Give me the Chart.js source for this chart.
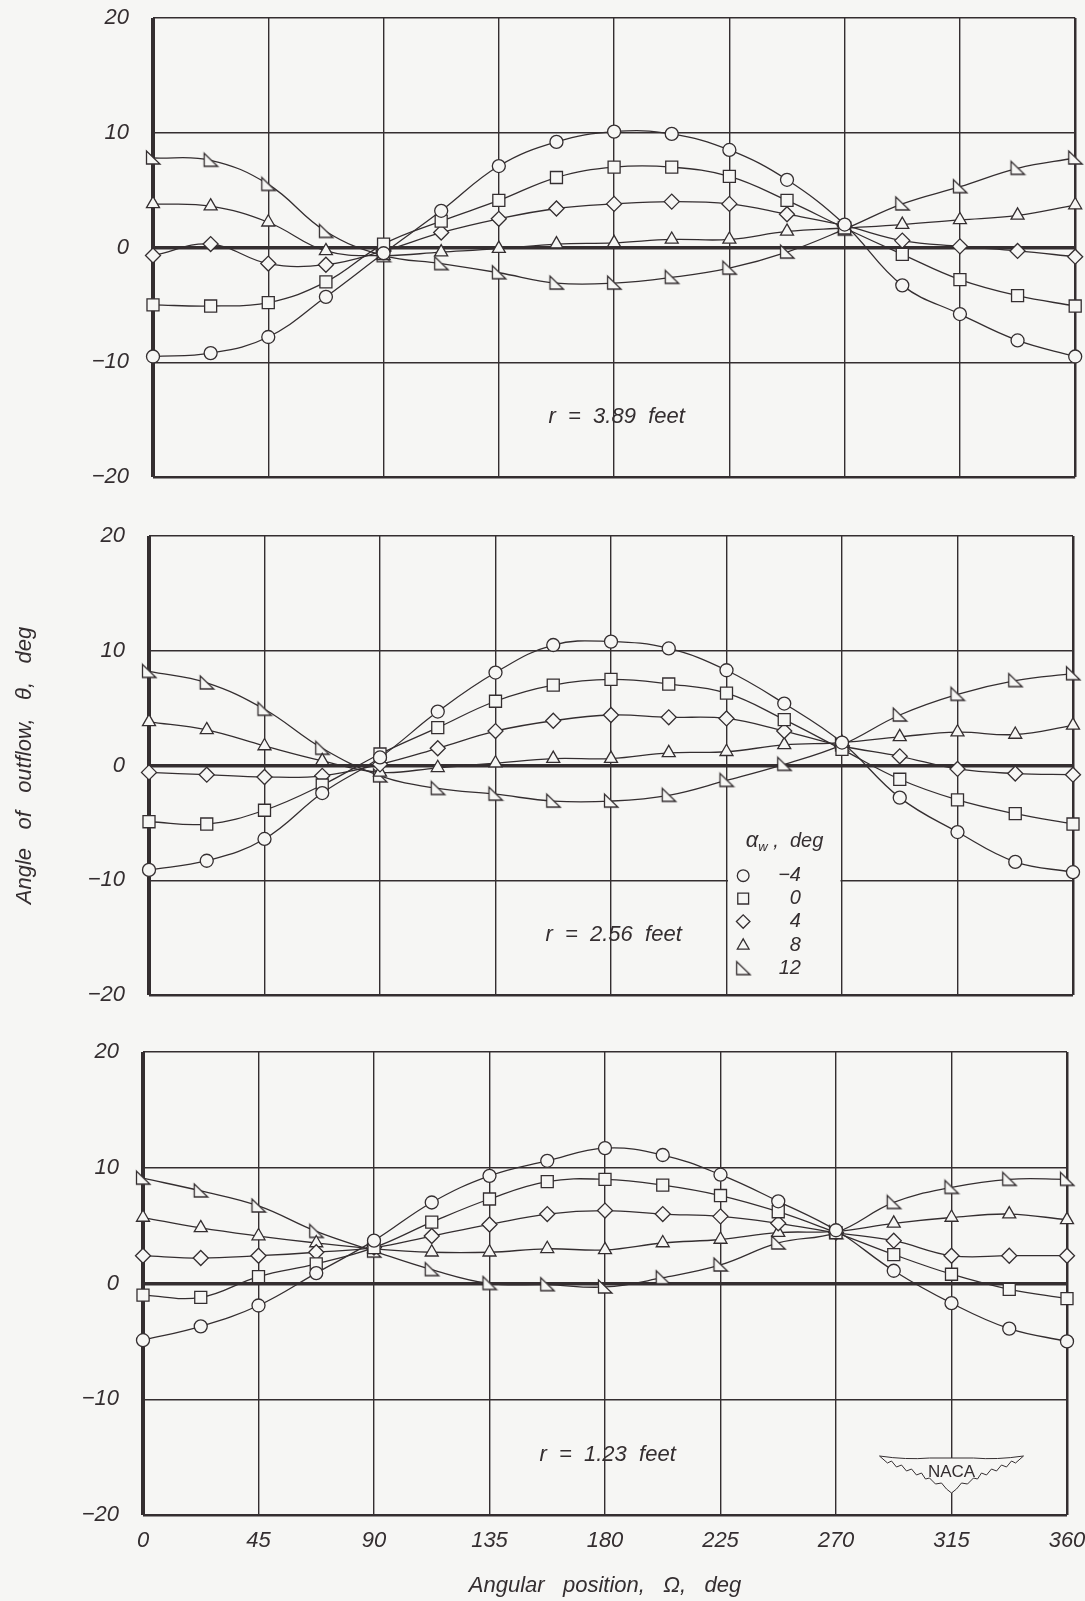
<!DOCTYPE html>
<html>
<head>
<meta charset="utf-8">
<script src="https://cdn.jsdelivr.net/npm/chart.js@4.4.1/dist/chart.umd.min.js"></script>
<style>
  body { margin: 0; background: #f6f6f4; }
  #wrap { position: relative; width: 1085px; height: 1601px; }
  canvas { position: absolute; left: 0; }
</style>
</head>
<body>
<div id="wrap">
  <canvas id="panelTop" width="1085" height="490" style="top:0px"></canvas>
  <canvas id="panelMid" width="1085" height="490" style="top:516px"></canvas>
  <canvas id="panelBot" width="1085" height="571" style="top:1030px"></canvas>
</div>
<script>
const BG = "#f6f6f4";
const INK = "#342e30";
const FONT = "'Liberation Sans', 'DejaVu Sans', sans-serif";

// angular position, deg
const ANGLES = [0, 22.5, 45, 67.5, 90, 112.5, 135, 157.5, 180, 202.5, 225, 247.5, 270, 292.5, 315, 337.5, 360];
const ALPHA_LABELS = ["-4", "0", "4", "8", "12"];
const X_TICKS = [0, 45, 90, 135, 180, 225, 270, 315, 360];
const Y_TICKS = [-20, -10, 0, 10, 20];

// r = 3.89 feet
const r389_am4 = [-9.5, -9.2, -7.8, -4.3, -0.5, 3.2, 7.1, 9.2, 10.1, 9.9, 8.5, 5.9, 2.0, -3.3, -5.8, -8.1, -9.5];
const r389_a0  = [-5.0, -5.1, -4.8, -3.0, 0.3, 2.3, 4.1, 6.1, 7.0, 7.0, 6.2, 4.1, 1.7, -0.6, -2.8, -4.2, -5.1];
const r389_a4  = [-0.7, 0.3, -1.4, -1.5, -0.3, 1.3, 2.5, 3.4, 3.8, 4.0, 3.8, 2.9, 1.9, 0.6, 0.1, -0.3, -0.8];
const r389_a8  = [3.8, 3.6, 2.2, -0.3, -0.7, -0.4, -0.1, 0.3, 0.4, 0.7, 0.7, 1.4, 1.7, 2.0, 2.4, 2.8, 3.7];
const r389_a12 = [7.8, 7.6, 5.5, 1.4, -0.7, -1.4, -2.2, -3.1, -3.1, -2.6, -1.8, -0.4, 1.6, 3.8, 5.3, 6.9, 7.8];

// r = 2.56 feet
const r256_am4 = [-9.1, -8.3, -6.4, -2.4, 0.7, 4.7, 8.1, 10.5, 10.8, 10.2, 8.3, 5.4, 2.0, -2.8, -5.8, -8.4, -9.3];
const r256_a0  = [-4.9, -5.1, -3.9, -1.7, 1.0, 3.3, 5.6, 7.0, 7.5, 7.1, 6.3, 4.0, 1.4, -1.2, -3.0, -4.2, -5.1];
const r256_a4  = [-0.6, -0.8, -1.0, -0.9, 0.1, 1.5, 3.0, 3.9, 4.4, 4.2, 4.1, 3.0, 1.7, 0.8, -0.3, -0.7, -0.8];
const r256_a8  = [3.8, 3.1, 1.7, 0.4, -0.6, -0.2, 0.2, 0.6, 0.6, 1.1, 1.2, 1.8, 2.0, 2.5, 2.9, 2.7, 3.5];
const r256_a12 = [8.2, 7.2, 4.9, 1.5, -0.9, -2.0, -2.5, -3.1, -3.1, -2.6, -1.3, 0.1, 1.8, 4.4, 6.2, 7.4, 8.0];

// r = 1.23 feet
const r123_am4 = [-4.9, -3.7, -1.9, 0.9, 3.7, 7.0, 9.3, 10.6, 11.7, 11.1, 9.4, 7.1, 4.6, 1.1, -1.7, -3.9, -5.0];
const r123_a0  = [-1.0, -1.2, 0.6, 1.7, 3.1, 5.3, 7.3, 8.8, 9.0, 8.5, 7.6, 6.2, 4.4, 2.5, 0.8, -0.5, -1.3];
const r123_a4  = [2.4, 2.2, 2.4, 2.7, 3.1, 4.1, 5.1, 6.0, 6.3, 6.0, 5.8, 5.2, 4.4, 3.7, 2.4, 2.4, 2.4];
const r123_a8  = [5.7, 4.8, 4.1, 3.5, 3.0, 2.7, 2.7, 3.0, 2.9, 3.5, 3.8, 4.4, 4.5, 5.2, 5.7, 6.0, 5.5];
const r123_a12 = [9.1, 8.0, 6.7, 4.5, 2.8, 1.2, 0.0, -0.1, -0.3, 0.5, 1.6, 3.5, 4.4, 7.0, 8.3, 9.0, 9.0];

// right triangle marker for alpha = 12
function makeRightTriangle() {
  const c = document.createElement('canvas');
  c.width = 18; c.height = 18;
  const g = c.getContext('2d');
  g.beginPath();
  g.moveTo(2.5, 2);
  g.lineTo(2.5, 15);
  g.lineTo(16, 15);
  g.closePath();
  g.fillStyle = BG;
  g.fill();
  g.strokeStyle = INK;
  g.lineWidth = 1.3;
  g.stroke();
  return c;
}

const POINT_STYLES = ['circle', 'rect', 'rectRot', 'triangle', makeRightTriangle()];
const POINT_RADII = [6.5, 8.5, 7.5, 7.5, 7];

function drawMarker(ctx, i, x, y) {
  const style = POINT_STYLES[i];
  ctx.save();
  if (typeof style !== 'string') {
    ctx.drawImage(style, x - style.width / 2, y - style.height / 2);
  } else {
    ctx.fillStyle = BG;
    ctx.strokeStyle = INK;
    ctx.lineWidth = 1.3;
    Chart.helpers.drawPoint(ctx, { pointStyle: style, radius: POINT_RADII[i] * 0.9, borderWidth: 1.3, rotation: 0 }, x, y);
  }
  ctx.restore();
}

// "r = ..." label inside each panel
function radiusLabel(text) {
  return {
    id: 'radiusLabel',
    afterDraw(chart) {
      const { ctx, scales: { x, y } } = chart;
      ctx.save();
      ctx.font = `italic 22px ${FONT}`;
      ctx.fillStyle = INK;
      ctx.textAlign = 'center';
      ctx.textBaseline = 'middle';
      ctx.fillText(text, x.getPixelForValue(181), y.getPixelForValue(-14.8));
      ctx.restore();
    }
  };
}

const legendBox = {
  id: 'legendBox',
  afterDraw(chart) {
    const { ctx, scales: { x, y } } = chart;
    const left = x.getPixelForValue(225) + 1.5;
    const right = x.getPixelForValue(270) - 1.5;
    ctx.save();
    ctx.fillStyle = BG;
    ctx.fillRect(left, y.getPixelForValue(-8.6), right - left, y.getPixelForValue(-19.85) - y.getPixelForValue(-8.6));

    ctx.fillStyle = INK;
    ctx.textBaseline = 'middle';
    const hx = x.getPixelForValue(232.5);
    const hy = y.getPixelForValue(-6.6);
    ctx.font = `italic 22px ${FONT}`;
    ctx.textAlign = 'left';
    ctx.fillText('α', hx, hy);
    const aw = ctx.measureText('α').width;
    ctx.font = `italic 13px ${FONT}`;
    ctx.fillText('w', hx + aw, hy + 6);
    const ww = ctx.measureText('w').width;
    ctx.font = `italic 20px ${FONT}`;
    ctx.fillText(' ,  deg', hx + aw + ww, hy);

    const rows = [-9.6, -11.6, -13.6, -15.7, -17.7];
    ctx.textAlign = 'right';
    ctx.font = `italic 20px ${FONT}`;
    rows.forEach((v, i) => {
      const py = y.getPixelForValue(v);
      drawMarker(ctx, i, x.getPixelForValue(231.5), py);
      ctx.fillStyle = INK;
      ctx.fillText(ALPHA_LABELS[i].replace('-', '−'), x.getPixelForValue(254), py);
    });
    ctx.restore();
  }
};

const nacaLogo = {
  id: 'nacaLogo',
  afterDraw(chart) {
    const { ctx, scales: { x, y } } = chart;
    const cx = x.getPixelForValue(315);
    const cy = y.getPixelForValue(-16.2);
    ctx.save();
    ctx.beginPath();
    ctx.moveTo(cx - 72, cy - 15);
    ctx.quadraticCurveTo(cx - 45, cy - 11, cx - 22, cy - 13);
    ctx.lineTo(cx + 22, cy - 13);
    ctx.quadraticCurveTo(cx + 45, cy - 11, cx + 72, cy - 15);
    // right wing feathers down to the centre
    const feathers = [[64, -8], [60, -10], [55, -4], [50, -6], [45, 0], [40, -2], [35, 4], [30, 2], [26, 8], [22, 7], [16, 13], [10, 12], [5, 18], [0, 22]];
    feathers.forEach(([dx, dy]) => ctx.lineTo(cx + dx, cy + dy));
    for (let k = feathers.length - 2; k >= 0; k--) ctx.lineTo(cx - feathers[k][0], cy + feathers[k][1]);
    ctx.closePath();
    ctx.fillStyle = BG;
    ctx.fill();
    ctx.strokeStyle = INK;
    ctx.lineWidth = 1;
    ctx.stroke();
    ctx.font = `17px ${FONT}`;
    ctx.fillStyle = INK;
    ctx.textAlign = 'center';
    ctx.textBaseline = 'middle';
    ctx.fillText('NACA', cx, cy + 1);
    ctx.restore();
  }
};

function createPanel(id, series, p) {
  const ctx = document.getElementById(id).getContext('2d');
  const options = {
    responsive: false,
    animation: false,
    events: [],
    layout: { padding: { top: p.area.top, right: 1085 - p.area.right, left: 0, bottom: 0 } },
    plugins: { legend: { display: false }, tooltip: { enabled: false } },
    scales: {
      x: {
        type: 'linear',
        min: 0,
        max: 360,
        afterBuildTicks: s => { s.ticks = X_TICKS.map(v => ({ value: v })); },
        afterFit: s => { s.height = p.xHeight; s.paddingLeft = 0; s.paddingRight = 0; },
        border: { display: false },
        grid: {
          color: INK,
          drawTicks: false,
          lineWidth: c => c.tick && c.tick.value === 0 ? 4 : (c.tick && c.tick.value === 360 ? 2.5 : 1.4)
        },
        ticks: {
          display: p.xTicks,
          maxRotation: 0,
          autoSkip: false,
          padding: 13,
          color: INK,
          font: { family: FONT, size: 22, style: 'italic' }
        },
        title: {
          display: p.xTicks,
          text: 'Angular   position,   Ω,   deg',
          color: INK,
          padding: { top: 0, bottom: 2 },
          font: { family: FONT, size: 22, style: 'italic' }
        }
      },
      y: {
        min: -20,
        max: 20,
        afterBuildTicks: s => { s.ticks = Y_TICKS.map(v => ({ value: v })); },
        afterFit: s => { s.width = p.area.left; s.paddingTop = 0; s.paddingBottom = 0; },
        border: { display: false },
        grid: {
          color: INK,
          drawTicks: false,
          lineWidth: c => c.tick && c.tick.value === 0 ? 3.5 : (c.tick && c.tick.value === -20 ? 2.5 : 1.4)
        },
        ticks: {
          padding: 24,
          color: INK,
          font: { family: FONT, size: 22, style: 'italic' },
          callback: v => v < 0 ? '−' + Math.abs(v) : String(v)
        },
        title: {
          display: !!p.yTitle,
          text: p.yTitle || '',
          color: INK,
          padding: { top: 12, bottom: 0 },
          font: { family: FONT, size: 22, style: 'italic' }
        }
      }
    }
  };

  const chart = new Chart(ctx, {
    type: 'line',
    data: {
      datasets: series.map((vals, i) => ({
        label: ALPHA_LABELS[i],
        data: vals.map((v, j) => ({ x: ANGLES[j], y: v })),
        borderColor: INK,
        borderWidth: 1.3,
        tension: 0.4,
        fill: false,
        pointStyle: POINT_STYLES[i],
        pointRadius: POINT_RADII[i],
        pointBackgroundColor: BG,
        pointBorderColor: INK,
        pointBorderWidth: 1.3,
        clip: false
      }))
    },
    options,
    plugins: p.plugins
  });

  // small correction so the plot box sits where the reference has it
  const a = chart.chartArea;
  const pad = options.layout.padding;
  options.layout.padding = {
    top: pad.top + (p.area.top - a.top),
    bottom: pad.bottom + (a.bottom - p.area.bottom),
    left: pad.left + (p.area.left - a.left),
    right: pad.right + (a.right - p.area.right)
  };
  chart.update('none');
  return chart;
}

createPanel('panelTop', [r389_am4, r389_a0, r389_a4, r389_a8, r389_a12],
  { area: { top: 18, bottom: 477, left: 153, right: 1078 }, xHeight: 13, xTicks: false,
    plugins: [radiusLabel('r  =  3.89  feet')] });

createPanel('panelMid', [r256_am4, r256_a0, r256_a4, r256_a8, r256_a12],
  { area: { top: 20, bottom: 479, left: 149, right: 1073 }, xHeight: 11, xTicks: false,
    yTitle: 'Angle   of   outflow,   θ,   deg',
    plugins: [radiusLabel('r  =  2.56  feet'), legendBox] });

createPanel('panelBot', [r123_am4, r123_a0, r123_a4, r123_a8, r123_a12],
  { area: { top: 22, bottom: 485, left: 143, right: 1067 }, xHeight: 86, xTicks: true,
    plugins: [radiusLabel('r  =  1.23  feet'), nacaLogo] });
</script>
</body>
</html>
